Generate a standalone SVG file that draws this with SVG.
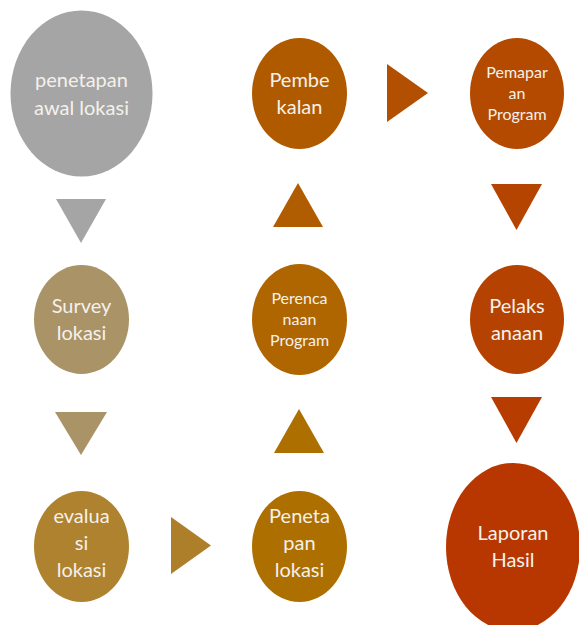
<svg xmlns="http://www.w3.org/2000/svg" width="579" height="625" viewBox="0 0 579 625">
<style>
  text { font-family: Lato, "Open Sans", "Liberation Sans", sans-serif; fill: #F4F1EC; text-anchor: middle; }
  .t { font-size: 20px; }
  .s { font-size: 16px; }
</style>
<rect width="579" height="625" fill="#FFFFFF"/>
<g id="connectors">
  <polygon points="56,199 106,199 81,243" fill="#A5A5A5"/>
  <polygon points="55,412 107,412 81,455" fill="#AA9366"/>
  <polygon points="171,517 211,545.5 171,574" fill="#AE7F2A"/>
  <polygon points="299,409 324,453 274,453" fill="#AD6F00"/>
  <polygon points="298,183 323,227 273,227" fill="#B05C00"/>
  <polygon points="387,64 428,93 387,122" fill="#B24F00"/>
  <polygon points="491,184 542,184 516.5,230" fill="#B54400"/>
  <polygon points="491,397 542,397 516.5,443" fill="#B63C00"/>
</g>
<g id="node-penetapan">
  <ellipse cx="81.5" cy="93.5" rx="71" ry="83" fill="#A5A5A5"/>
  <text class="t" x="81.5" y="87">penetapan</text>
  <text class="t" x="81.5" y="115">awal lokasi</text>
</g>
<g id="node-survey">
  <ellipse cx="81.5" cy="319.5" rx="47.5" ry="54.5" fill="#AA9366"/>
  <text class="t" x="81.5" y="313">Survey</text>
  <text class="t" x="81.5" y="340">lokasi</text>
</g>
<g id="node-evaluasi">
  <ellipse cx="81.5" cy="546.5" rx="47.5" ry="55.5" fill="#AE822F"/>
  <text class="t" x="81.5" y="523">evalua</text>
  <text class="t" x="81.5" y="550">si</text>
  <text class="t" x="81.5" y="577">lokasi</text>
</g>
<g id="node-penetapan-lokasi">
  <ellipse cx="299.5" cy="546.5" rx="47.5" ry="55.5" fill="#AD6F00"/>
  <text class="t" x="299.5" y="523">Peneta</text>
  <text class="t" x="299.5" y="550">pan</text>
  <text class="t" x="299.5" y="577">lokasi</text>
</g>
<g id="node-perencanaan">
  <ellipse cx="299.5" cy="319.5" rx="47.5" ry="55.5" fill="#AF6500"/>
  <text class="s" x="299.5" y="304">Perenca</text>
  <text class="s" x="299.5" y="325">naan</text>
  <text class="s" x="299.5" y="346">Program</text>
</g>
<g id="node-pembekalan">
  <ellipse cx="299.5" cy="93.5" rx="47.5" ry="55.5" fill="#B05A00"/>
  <text class="t" x="299.5" y="87">Pembe</text>
  <text class="t" x="299.5" y="114">kalan</text>
</g>
<g id="node-pemaparan">
  <ellipse cx="517" cy="93.5" rx="47" ry="55.5" fill="#B34A00"/>
  <text class="s" x="517" y="78">Pemapar</text>
  <text class="s" x="517" y="99">an</text>
  <text class="s" x="517" y="120">Program</text>
</g>
<g id="node-pelaksanaan">
  <ellipse cx="517" cy="319.5" rx="47" ry="54.5" fill="#B54200"/>
  <text class="t" x="517" y="313">Pelaks</text>
  <text class="t" x="517" y="340">anaan</text>
</g>
<g id="node-laporan">
  <ellipse cx="513" cy="547" rx="67" ry="84" fill="#B83700"/>
  <text class="t" x="513" y="540">Laporan</text>
  <text class="t" x="513" y="567">Hasil</text>
</g>
</svg>
